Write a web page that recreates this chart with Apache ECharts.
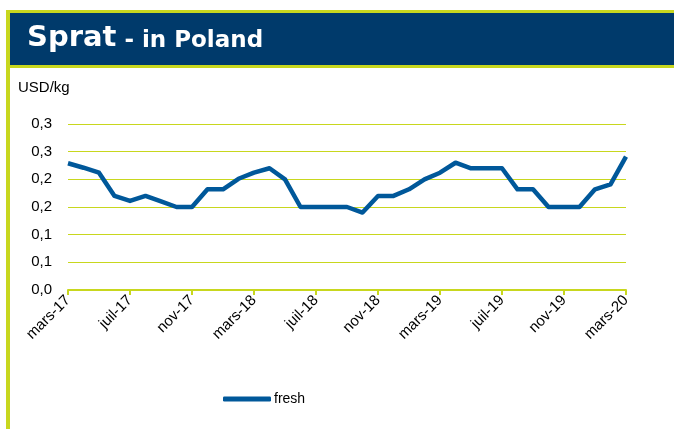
<!DOCTYPE html>
<html>
<head>
<meta charset="utf-8">
<script src="https://cdn.jsdelivr.net/npm/echarts@6/dist/echarts.min.js"></script>
<style>
  html, body { margin: 0; padding: 0; background: #fff; }
  #chart { width: 674px; height: 429px; }
</style>
</head>
<body>
<div id="chart"></div>
<script>
// months, mars-17 .. mars-20
var months = ['mars-17','avr-17','mai-17','juin-17','juil-17','août-17','sept-17','oct-17','nov-17','déc-17','janv-18','févr-18',
  'mars-18','avr-18','mai-18','juin-18','juil-18','août-18','sept-18','oct-18','nov-18','déc-18','janv-19','févr-19',
  'mars-19','avr-19','mai-19','juin-19','juil-19','août-19','sept-19','oct-19','nov-19','déc-19','janv-20','févr-20','mars-20'];
// USD/kg
var fresh = [0.229,0.221,0.212,0.170,0.161,0.170,0.160,0.150,0.150,0.182,0.182,0.201,
  0.212,0.220,0.200,0.150,0.150,0.150,0.150,0.140,0.170,0.170,0.182,0.200,
  0.212,0.230,0.220,0.220,0.220,0.182,0.182,0.150,0.150,0.150,0.182,0.191,0.241];
var yTicks = [0, 0.05, 0.1, 0.15, 0.2, 0.25, 0.3];

var green = '#c8d71e';
var navy = '#003a6b';

var chart = echarts.init(document.getElementById('chart'));
chart.setOption({
  animation: false,
  textStyle: { fontFamily: 'Liberation Sans, Arial, sans-serif' },
  graphic: [
    { type: 'rect', shape: { x: 6, y: 10, width: 668, height: 58 }, style: { fill: green }, silent: true },
    { type: 'rect', shape: { x: 6, y: 10, width: 4, height: 419 }, style: { fill: green }, silent: true },
    { type: 'rect', shape: { x: 10, y: 13, width: 664, height: 52 }, style: { fill: navy }, silent: true },
    { type: 'text', left: 27, top: 24, style: {
        text: '{a|Sprat}{b| - in Poland}',
        rich: {
          a: { fill: '#fff', font: 'bold 29px DejaVu Sans, Verdana, sans-serif' },
          b: { fill: '#fff', font: 'bold 23px DejaVu Sans, Verdana, sans-serif', padding: [5, 0, 0, 0] }
        }
      } },
    { type: 'text', left: 18, top: 80, style: { text: 'USD/kg', fill: '#000', font: '15px Liberation Sans, Arial, sans-serif' } }
  ],
  grid: { left: 68, right: 48, top: 124, bottom: 139 },
  legend: {
    left: 218, top: 387,
    data: ['fresh'],
    icon: 'roundRect',
    itemWidth: 48, itemHeight: 5, itemGap: 4,
    textStyle: { fontSize: 14, color: '#000', padding: [0, 0, 0, -2] }
  },
  xAxis: {
    type: 'category',
    data: months,
    boundaryGap: false,
    axisLine: { lineStyle: { color: green, width: 2 } },
    axisTick: { interval: 3, length: 5, lineStyle: { color: green, width: 2 } },
    axisLabel: { interval: 3, rotate: 45, fontSize: 15, color: '#000', margin: 8 }
  },
  yAxis: {
    type: 'value',
    min: 0, max: 0.3, interval: 0.05,
    axisLine: { show: false },
    axisTick: { show: false },
    splitLine: { lineStyle: { color: green, width: 1 } },
    axisLabel: {
      fontSize: 15, color: '#000', margin: 16,
      formatter: function (v) {
        return (Math.round(v * 10 + 1e-6) / 10).toFixed(1).replace('.', ',');
      },
      customValues: yTicks
    }
  },
  series: [{
    name: 'fresh',
    type: 'line',
    data: fresh,
    showSymbol: false,
    color: '#00589a',
    lineStyle: { width: 4.5, color: '#00589a', join: 'round' }
  }]
});
</script>
</body>
</html>
